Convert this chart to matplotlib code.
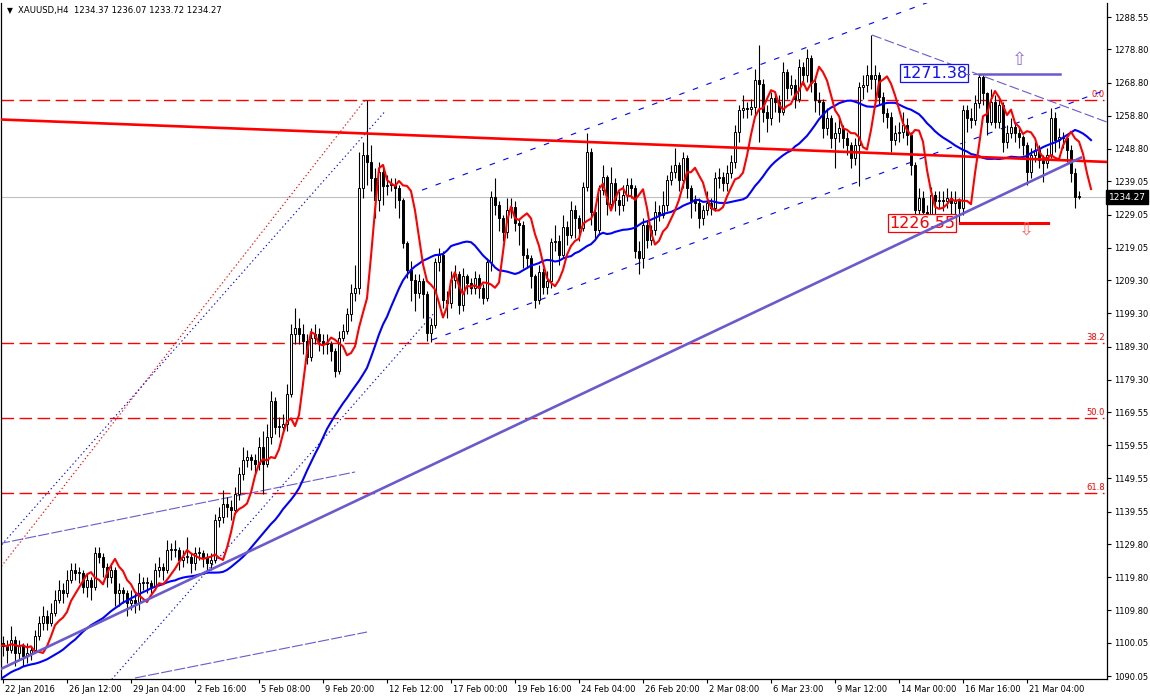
import numpy as np
import pandas as pd
import matplotlib
matplotlib.use("Agg")
import matplotlib.pyplot as plt
import matplotlib.transforms as mtransforms

# XAUUSD H4 bars, 22 Jan 2016 .. 22 Mar 2016
close = [1099, 1098, 1101, 1097, 1099, 1096, 1097, 1098, 1102, 1106,
         1108, 1106, 1109, 1113, 1116, 1115, 1119, 1122, 1121, 1121,
         1117, 1119, 1117, 1127, 1126, 1123, 1120, 1122, 1115, 1116,
         1115, 1112, 1113, 1112, 1118, 1118, 1118, 1117, 1122, 1123,
         1122, 1128, 1128, 1128, 1125, 1126, 1126, 1124, 1127, 1127,
         1126, 1124, 1125, 1137, 1138, 1142, 1141, 1140, 1145, 1151,
         1155, 1156, 1155, 1154, 1159, 1154, 1162, 1173, 1165, 1165,
         1166, 1175, 1193, 1195, 1193, 1191, 1186, 1192, 1193, 1191,
         1190, 1190, 1188, 1182, 1192, 1194, 1199, 1205.5, 1207, 1237,
         1247, 1245, 1240, 1233.4, 1242, 1237.5, 1238, 1238, 1237, 1233.4,
         1220.5, 1212.4, 1209.3, 1205.4, 1209, 1205, 1193.3, 1195.8, 1214.7, 1217,
         1203.3, 1202.4, 1209.3, 1211, 1201.8, 1210.4, 1208.4, 1207, 1210, 1207,
         1204, 1214.7, 1234.3, 1232, 1228, 1223.8, 1230.4, 1231.3, 1226.5, 1225.9,
         1217, 1216, 1210.4, 1203.3, 1211.8, 1207.3, 1209, 1220.8, 1221, 1217,
         1225.3, 1223, 1230.4, 1228, 1225, 1237.4, 1247.9, 1229.8, 1224.4, 1236.5,
         1240.4, 1232.1, 1238.5, 1233.4, 1232, 1235, 1238, 1237, 1218, 1216,
         1226, 1221.4, 1224.4, 1229.8, 1229, 1232, 1239.5, 1242, 1243.9, 1239.5,
         1246, 1237, 1233, 1232.5, 1228, 1230.4, 1232.5, 1231, 1240, 1240.4,
         1238.5, 1241.6, 1244.9, 1253.9, 1260.5, 1261, 1260.8, 1261.5, 1269.5, 1268.5,
         1259.9, 1258, 1264.2, 1263, 1260, 1271.9, 1267.2, 1268, 1264, 1273.5,
         1271, 1276.2, 1268.6, 1263.5, 1263, 1255, 1258, 1252.1, 1253.6, 1255,
         1252, 1250, 1246, 1250, 1267.5, 1268, 1271, 1270, 1271, 1264.4,
         1259.6, 1258.5, 1251.5, 1253.6, 1254, 1256, 1253, 1244, 1230.4, 1234,
         1229.8, 1228.5, 1234.9, 1233, 1233.4, 1233, 1234, 1232.5, 1233, 1231,
         1260.5, 1258, 1257.5, 1262.6, 1270.5, 1265.7, 1257, 1263, 1257, 1262,
         1250.9, 1253.6, 1255.4, 1253.5, 1252.5, 1250, 1241.9, 1247, 1248.5, 1245.5,
         1244.5, 1247, 1258, 1251.5, 1252.5, 1252, 1248.5, 1241.6, 1234.37, 1234.27]

high = [1102, 1101, 1105, 1102, 1101, 1100, 1100, 1099, 1104, 1108,
        1111, 1110, 1112, 1116, 1119, 1118, 1122, 1124, 1124, 1123,
        1122, 1121, 1120, 1129, 1129, 1127, 1124, 1124, 1123, 1118,
        1117, 1116, 1116, 1115, 1121, 1120, 1120, 1119, 1124, 1126,
        1124, 1131, 1130, 1131, 1129, 1128, 1132, 1127, 1129, 1129,
        1128, 1127, 1127, 1139, 1141, 1146, 1144, 1143, 1147, 1153,
        1159, 1158, 1157, 1157, 1162, 1164, 1166, 1176, 1174, 1168,
        1169, 1178, 1196, 1201, 1198, 1196, 1193, 1195, 1196, 1195,
        1193, 1193, 1191, 1189, 1194, 1196, 1201, 1208, 1214, 1248,
        1251, 1263.5, 1250, 1243, 1245, 1244, 1241, 1240, 1240, 1238,
        1234, 1221, 1215, 1211, 1211, 1210, 1206, 1198, 1216, 1219,
        1218, 1206, 1212, 1214, 1212, 1213, 1211, 1210, 1212, 1211,
        1208, 1216, 1236, 1240, 1233, 1229, 1234, 1234, 1233, 1228,
        1227, 1219, 1217, 1211, 1214, 1213, 1212, 1222, 1226, 1223,
        1229, 1227, 1233, 1232, 1229, 1239, 1253.5, 1249, 1231, 1238,
        1244, 1241, 1243.5, 1240, 1236, 1238, 1240, 1240, 1238, 1221,
        1228, 1227, 1226, 1233, 1232, 1236, 1241, 1244, 1249, 1245,
        1248, 1247, 1238, 1235, 1234, 1232, 1236, 1234, 1242, 1243,
        1242, 1244, 1247, 1256, 1262, 1265, 1263, 1264, 1273, 1280,
        1270, 1262, 1266, 1266, 1265, 1275, 1273, 1271, 1270, 1276,
        1275, 1278.8, 1277, 1270, 1266, 1264, 1261, 1259, 1257, 1258,
        1256, 1254, 1251, 1252, 1269, 1271, 1274, 1283.1, 1274, 1272,
        1266, 1261, 1260, 1256, 1257, 1260, 1258, 1254, 1245, 1237,
        1236, 1232, 1237.4, 1236, 1236, 1236, 1237, 1236, 1236, 1234,
        1262, 1262, 1261, 1265, 1271.38, 1271, 1266, 1267, 1265, 1264,
        1263, 1256, 1258, 1257, 1255, 1253, 1251, 1249, 1251, 1250,
        1247, 1249, 1261, 1260, 1255, 1254, 1253, 1250, 1243, 1236.07]

low = [1096, 1094, 1097, 1093, 1095, 1093, 1094, 1095, 1097, 1101,
       1104, 1104, 1105, 1108, 1112, 1112, 1114, 1118, 1119, 1118,
       1115, 1114, 1113, 1116, 1124, 1120, 1117, 1118, 1111, 1111,
       1112, 1108, 1110, 1109, 1110, 1116, 1115, 1115, 1116, 1120,
       1119, 1121, 1125, 1126, 1122, 1123, 1124, 1121, 1122, 1125,
       1123, 1121, 1122, 1124, 1135, 1136, 1138, 1137, 1139, 1143,
       1149, 1153, 1152, 1151, 1152, 1145, 1153, 1160, 1163, 1162,
       1163, 1164, 1174, 1190, 1190, 1187, 1184, 1185, 1190, 1188,
       1187, 1187, 1185, 1180, 1181, 1191, 1193, 1197, 1203, 1205,
       1234, 1238, 1236, 1228, 1230, 1232, 1235, 1236, 1231, 1228,
       1219, 1210, 1203, 1200, 1204, 1198, 1191, 1190.6, 1195, 1212,
       1201, 1198, 1201, 1207, 1199, 1200, 1205, 1205, 1205, 1204,
       1202, 1203, 1212, 1229, 1224, 1221, 1222, 1228, 1224, 1220,
       1213, 1213, 1207, 1201, 1202, 1205, 1205, 1207, 1218, 1214,
       1216, 1220, 1222, 1222, 1221, 1224, 1236, 1226, 1222, 1223,
       1235, 1229, 1231, 1230, 1229, 1230, 1233, 1234, 1216, 1211,
       1213, 1219, 1220, 1223, 1227, 1228, 1230, 1238, 1240, 1236,
       1237, 1234, 1228, 1230, 1225, 1226, 1229, 1229, 1230, 1237,
       1236, 1236, 1240, 1243, 1251, 1258, 1258, 1259, 1259, 1251,
       1257, 1254, 1256, 1260, 1257, 1259, 1264, 1265, 1261, 1263,
       1268, 1269, 1266, 1260, 1259, 1252, 1253, 1249, 1243, 1251,
       1249, 1247, 1243, 1244, 1237.5, 1264, 1266, 1267, 1262, 1262,
       1257, 1255, 1248, 1250, 1251, 1252, 1250, 1241, 1227, 1228,
       1227, 1227, 1227, 1228, 1231, 1230, 1231, 1229, 1229, 1226.55,
       1229, 1254, 1255, 1256, 1261, 1262, 1253, 1256, 1255, 1255,
       1248, 1249, 1252, 1251, 1249, 1247, 1238, 1240, 1245, 1243,
       1239, 1243, 1246, 1248, 1249, 1249, 1245, 1239, 1231, 1233.72]

# closes just before the visible window (only feed the moving averages)
pre_close = [1076, 1078, 1080, 1084, 1086, 1084, 1088, 1091, 1090, 1088,
             1086, 1089, 1088, 1090, 1087, 1088, 1086, 1089, 1091, 1088,
             1090, 1095, 1097, 1099, 1100, 1098, 1100, 1099, 1100]

date_labels = ["22 Jan 2016", "26 Jan 12:00", "29 Jan 04:00", "2 Feb 16:00",
               "5 Feb 08:00", "9 Feb 20:00", "12 Feb 12:00", "17 Feb 00:00",
               "19 Feb 16:00", "24 Feb 04:00", "26 Feb 20:00", "2 Mar 08:00",
               "6 Mar 23:00", "9 Mar 12:00", "14 Mar 00:00", "16 Mar 16:00",
               "21 Mar 04:00"]
price_ticks = [1288.55, 1278.80, 1268.80, 1258.80, 1248.80, 1239.05, 1229.05,
               1219.05, 1209.30, 1199.30, 1189.30, 1179.30, 1169.55, 1159.55,
               1149.55, 1139.55, 1129.80, 1119.80, 1109.80, 1100.05, 1090.05]

# fibonacci retracement (anchor bar, price)
fib_low = (-33.5, 1071.95)
fib_high = (90.5, 1263.55)
fib_levels = [0.0, 38.2, 50.0, 61.8]

# drawn objects: (bar, price) anchor pairs
red_trend = [(-1, 1257.7), (276, 1244.9)]
support = [(-1, 1091.9), (269.5, 1246.2)]
fan_blue_up = [(-1, 1128.7), (95.5, 1260.1)]
fan_blue_lo = [(26.5, 1088.1), (107.5, 1199.0)]
thin_up = [(-1, 1129.9), (88, 1151.5)]
thin_lo = [(33, 1089.45), (91, 1103.3)]
chan_lo = [(107.25, 1191.3), (276, 1266.7)]
chan_up = [(104.75, 1236.4), (232, 1293.3)]
resist = [(217.25, 1283.13), (276, 1256.9)]
swing_hi = 1271.38
swing_lo = 1226.55

o = np.array([pre_close[-1]] + close[:-1], dtype=float)
c = np.array(close, dtype=float)
h = np.maximum(np.array(high, dtype=float), np.maximum(o, c))
l = np.minimum(np.array(low, dtype=float), np.minimum(o, c))
n = len(c)
x = np.arange(n)

# moving averages, both shifted forward by 3 bars as in MT4
allc = pd.Series(pre_close + close, dtype=float)
idx = np.arange(-len(pre_close), n)
ma_fast = allc.rolling(3).mean().values
ma_slow = allc.rolling(26).mean().values
xs = idx + 3
keep = xs >= -1

fig = plt.figure(figsize=(11.5, 7), dpi=100)
ax = fig.add_axes([1 / 1150, 21 / 700, 1106 / 1150, 676 / 700])
ax.set_xlim(-0.5, 276)
ax.set_ylim(1089.15, 1292.77)

fs = 6
ax.axhline(c[-1], color="#c0c0c0", lw=0.8, zorder=1)

# fibo levels
fh, fl = fib_high[1], fib_low[1]
for lv in fib_levels:
    p = fh - lv / 100 * (fh - fl)
    ax.plot([-0.5, 275.2], [p, p], color="#ff0000", lw=1.0, ls=(0, (9, 4)), zorder=2)
    ax.text(275.4, p + 0.4, f"{lv:.1f}", color="red", fontsize=fs,
            ha="right", va="bottom", zorder=2)
ax.plot([fib_low[0], fib_high[0]], [fib_low[1], fib_high[1]], color="red",
        lw=0.8, ls=(0, (1.2, 2.2)), zorder=2)

def seg(pts, **kw):
    ax.plot([pts[0][0], pts[1][0]], [pts[0][1], pts[1][1]], **kw)

seg(fan_blue_up, color="blue", lw=0.8, ls=(0, (1.2, 2.5)), zorder=2)
seg(fan_blue_lo, color="blue", lw=0.8, ls=(0, (1.2, 2.5)), zorder=2)
seg(chan_lo, color="blue", lw=0.8, ls=(0, (5, 8)), zorder=2)
seg(chan_up, color="blue", lw=0.8, ls=(0, (5, 8)), zorder=2)
seg(thin_up, color="#6a5acd", lw=0.8, ls=(0, (10, 2)), zorder=2)
seg(thin_lo, color="#6a5acd", lw=0.8, ls=(0, (10, 2)), zorder=2)
seg(resist, color="#6a5acd", lw=0.8, ls=(0, (9, 3)), zorder=2)

# candles
up = c >= o
ax.vlines(x, l, h, color="black", lw=0.8, zorder=3)
body = np.maximum(np.abs(c - o), 0.3)
ax.bar(x, body, bottom=np.minimum(o, c), width=0.55,
       color=np.where(up, "white", "black"), edgecolor="black", linewidth=0.7, zorder=4)

ax.plot(xs[keep], ma_slow[keep], color="#0000ff", lw=1.5, zorder=5)
ax.plot(xs[keep], ma_fast[keep], color="#ff0000", lw=1.5, zorder=5)

seg(red_trend, color="red", lw=1.9, zorder=6)
seg(support, color="#6a5acd", lw=1.9, zorder=6)

# swing high / low markers
ax.plot([240.5, 244], [swing_hi, swing_hi], color="#6a5acd", lw=0.8, ls=(0, (4, 3)), zorder=6)
ax.plot([244, 264.25], [swing_hi, swing_hi], color="#6a5acd", lw=1.8, zorder=6)
ax.plot([239.25, 261.25], [swing_lo, swing_lo], color="red", lw=2.2, zorder=6)
ax.text(232.75, swing_hi + 0.3, f"{swing_hi:.2f}", color="#1010ff", fontsize=11.5,
        ha="center", va="center", zorder=5,
        bbox=dict(boxstyle="square,pad=0.08", fc="white", ec="#1010ff", lw=0.9))
ax.text(229.8, swing_lo - 0.1, f"{swing_lo:.2f}", color="red", fontsize=11.5,
        ha="center", va="center", zorder=5,
        bbox=dict(boxstyle="square,pad=0.08", fc="white", ec="red", lw=0.9))
ax.text(254, 1275.6, "\u21e7", color="#9370db", fontsize=13, ha="center", va="center", zorder=6)
ax.text(255.75, 1224.4, "\u21e9", color="#ff6a6a", fontsize=13, ha="center", va="center", zorder=6)

# axes look
ax.spines["top"].set_visible(False)
for s in ["left", "right", "bottom"]:
    ax.spines[s].set_linewidth(0.9)
ax.yaxis.tick_right()
ax.set_yticks(price_ticks)
ax.set_yticklabels([f"{p:.2f}" for p in price_ticks], fontsize=fs)
ax.tick_params(axis="y", length=3, width=0.8, pad=2)
ax.set_xticks(np.arange(len(date_labels)) * 16)
ax.set_xticklabels(date_labels, fontsize=fs, ha="left")
ax.tick_params(axis="x", length=3, width=0.8, pad=1)
off = mtransforms.ScaledTranslation(2 / 100, 0, fig.dpi_scale_trans)
for t in ax.get_xticklabels():
    t.set_transform(t.get_transform() + off)

# last price tag
tr = mtransforms.blended_transform_factory(ax.transAxes, ax.transData)
ax.text(1.0015, c[-1], f"{c[-1]:.2f}", transform=tr, color="white", fontsize=fs + 0.5,
        ha="left", va="center", clip_on=False, zorder=10,
        bbox=dict(boxstyle="square,pad=0.25", fc="black", ec="black"))

# header
fig.text(7 / 1150, 1 - 11 / 700, "\u25bc", fontsize=5.5, va="center", ha="left")
fig.text(18 / 1150, 1 - 11 / 700,
         f"XAUUSD,H4  {o[-1]:.2f} {h[-1]:.2f} {l[-1]:.2f} {c[-1]:.2f}",
         fontsize=6.1, va="center", ha="left")

fig.savefig("out.png", dpi=100)
